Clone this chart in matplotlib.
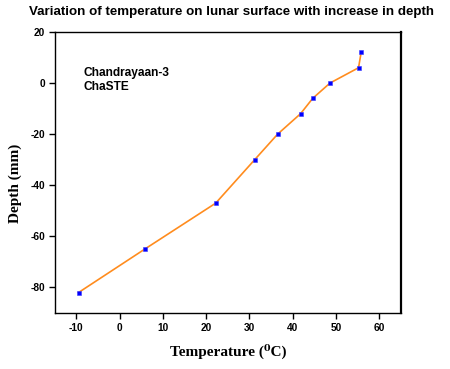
import matplotlib
matplotlib.use("Agg")
import matplotlib.pyplot as plt

# values
temperature = [-9.5, 5.8, 22.2, 31.2, 36.5, 41.8, 44.6, 48.6, 55.2, 55.8]
depth = [-82, -65, -47, -30, -20, -12, -6, 0, 6, 12]
x_ticks = [-10, 0, 10, 20, 30, 40, 50, 60]
y_ticks = [-80, -60, -40, -20, 0, 20]

fig = plt.figure(figsize=(4.5, 3.69), dpi=100)
ax = fig.add_axes([0.1216, 0.1518, 0.7694, 0.7615])

ax.plot(temperature, depth, color="#ff8c1e", lw=1.2, zorder=2)
ax.plot(temperature, depth, ls="none", marker="s", ms=3.2, mfc="#0000ff",
        mec="#3a3aff", mew=0.4, zorder=3)

ax.set_xlim(-15, 65)
ax.set_ylim(-90, 20)
ax.set_xticks(x_ticks)
ax.set_yticks(y_ticks)

tick_font = {"family": ["Liberation Sans", "DejaVu Sans"], "weight": "bold", "size": 7.3}
ax.set_xticklabels([str(t) for t in x_ticks], fontdict=tick_font)
ax.set_yticklabels([str(t) for t in y_ticks], fontdict=tick_font)
ax.tick_params(direction="out", length=4, width=1, top=False, right=False, pad=3)

for side in ["left", "bottom", "top"]:
    ax.spines[side].set_linewidth(1.0)
ax.spines["right"].set_linewidth(1.6)

label_font = {"family": ["Liberation Serif", "DejaVu Serif"], "weight": "bold", "size": 11}
ax.set_xlabel("Temperature (\u2070C)", fontdict=label_font, labelpad=8)
ax.set_ylabel("Depth (mm)", fontdict=label_font)
ax.yaxis.set_label_coords(-0.094, 0.46)

fig.text(0.514, 0.968, "Variation of temperature on lunar surface with increase in depth",
         ha="center", va="center", family=["Liberation Sans", "DejaVu Sans"],
         weight="bold", size=9.6)

ax.text(0.082, 0.875, "Chandrayaan-3\nChaSTE", transform=ax.transAxes, ha="left", va="top",
        family=["Liberation Sans", "DejaVu Sans"], weight="bold", size=8.6, linespacing=1.25)

fig.savefig("out.png", dpi=100)
